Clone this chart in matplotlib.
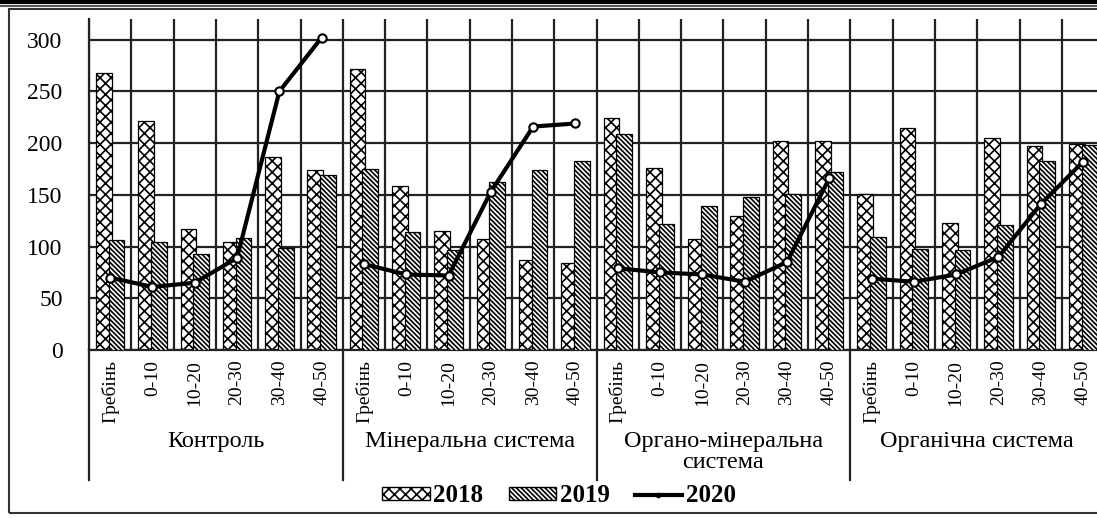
import matplotlib
matplotlib.use('Agg')
import matplotlib.pyplot as plt
from matplotlib.lines import Line2D
from matplotlib.patches import Patch, Rectangle
import numpy as np

plt.rcParams['font.family'] = ['Liberation Serif', 'DejaVu Serif']
plt.rcParams['hatch.linewidth'] = 1.2

# Групи систем удобрення та шари ґрунту (см)
groups = ['Контроль', 'Мінеральна система', 'Органо-мінеральна\nсистема', 'Органічна система']
layers = ['Гребінь', '0-10', '10-20', '20-30', '30-40', '40-50']
years = ['2018', '2019', '2020']

y2018 = [268, 221, 117, 104, 187, 174,
         272, 159, 115, 107, 87, 84,
         224, 176, 107, 130, 202, 202,
         151, 215, 123, 205, 197, 199]
y2019 = [106, 104, 93, 108, 99, 169,
         175, 114, 97, 162, 174, 183,
         209, 122, 139, 148, 151, 172,
         109, 98, 97, 121, 183, 198]
y2020 = [70, 61, 65, 89, 250, 302,
         83, 73, 72, 153, 216, 219,
         79, 75, 73, 66, 85, 166,
         69, 66, 73, 90, 141, 182]

GRID = '#222222'
HATCH_2018 = 'xxx'
HATCH_2019 = '\\' * 7
n = len(layers) * len(groups)
x = np.arange(n)

fig = plt.figure(figsize=(10.97, 5.18), dpi=100)
ax = fig.add_axes([89 / 1097, 168 / 518, n * 42.3 / 1097, 331 / 518])

ax.bar(x - 0.15, y2018, 0.37, color='white', edgecolor='black',
       hatch=HATCH_2018, linewidth=0.9, zorder=2)
ax.bar(x + 0.15, y2019, 0.37, color='white', edgecolor='black',
       hatch=HATCH_2019, linewidth=0.9, zorder=3)

# лінія 2020 року — окремо для кожної системи
for g in range(len(groups)):
    sl = slice(g * 6, g * 6 + 6)
    ax.plot(x[sl], y2020[sl], color='black', lw=3, marker='o', ms=6,
            mfc='white', mec='black', mew=1.5, zorder=4)

ax.set_xlim(-0.5, n - 0.5)
ax.set_ylim(0, 320)
ax.set_yticks(range(0, 301, 50))
ax.set_xticks(x)
ax.set_xticklabels(layers * len(groups), rotation=90, fontsize=14)
ax.set_xticks(np.arange(-0.5, n, 1), minor=True)
ax.tick_params(axis='x', which='both', length=0, pad=7)
ax.tick_params(axis='y', length=0, pad=19, labelsize=17)
ax.grid(axis='y', which='major', color=GRID, lw=1.6)
ax.grid(axis='x', which='minor', color=GRID, lw=1.6)
ax.set_axisbelow(True)
for s in ['top', 'right']:
    ax.spines[s].set_visible(False)
for s in ['left', 'bottom']:
    ax.spines[s].set_color(GRID)
    ax.spines[s].set_linewidth(1.6)

# підписи груп і розділювачі під віссю
trans = ax.get_xaxis_transform()
for b in np.arange(-0.5, n, 6):
    ax.plot([b, b], [0, -0.393], transform=trans, color=GRID, lw=1.6, clip_on=False)
for g, name in enumerate(groups):
    ax.text(g * 6 + 2.5, -0.245, name, transform=trans, ha='center', va='top',
            fontsize=17.5, linespacing=1.0)

handles = [Patch(facecolor='white', edgecolor='black', hatch=HATCH_2018, label=years[0]),
           Patch(facecolor='white', edgecolor='black', hatch=HATCH_2019, label=years[1]),
           Line2D([], [], color='black', lw=3, marker='o', ms=3, label=years[2])]
fig.legend(handles=handles, loc='center', bbox_to_anchor=(559 / 1097, 1 - 496 / 518),
           ncol=3, frameon=False, prop={'weight': 'bold', 'size': 18},
           handlelength=1.9, handleheight=0.45, handletextpad=0.15, columnspacing=1.0)

# рамка навколо діаграми
fig.add_artist(Rectangle((9 / 1097, 5 / 518), 1.0, 504 / 518, transform=fig.transFigure,
                         fill=False, edgecolor='#333333', lw=1.5))
fig.add_artist(Line2D([0, 1], [1 - 1.5 / 518] * 2, transform=fig.transFigure, color='black', lw=3))
fig.add_artist(Line2D([0, 1], [1 - 6 / 518] * 2, transform=fig.transFigure, color='#555555', lw=1.5))

fig.savefig('out.png', dpi=100, facecolor='white')
